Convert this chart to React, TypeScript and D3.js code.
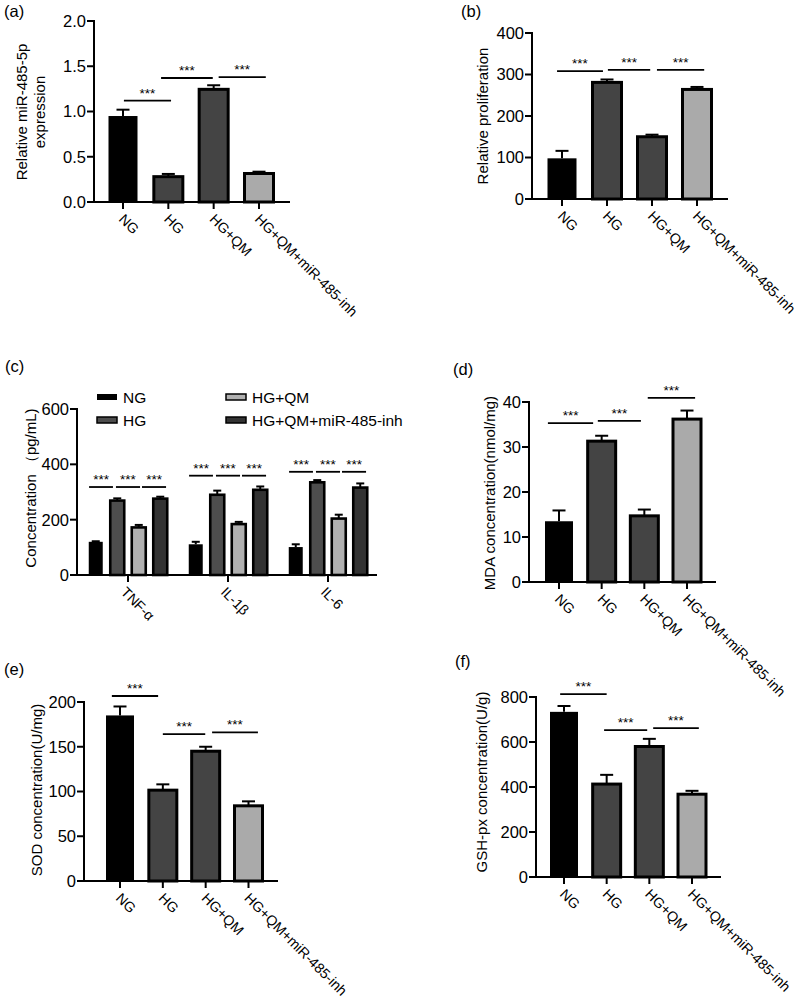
import React from 'react';
import * as d3 from 'd3';

// ---------- data ----------
const GROUPS = ['NG', 'HG', 'HG+QM', 'HG+QM+miR-485-inh'];

const A_VALUES = [0.95, 0.28, 1.245, 0.315];
const A_SD = [0.07, 0.03, 0.045, 0.02];
const A_TICKS = [0, 0.5, 1.0, 1.5, 2.0];
const A_SIG = [[0.02, 1.06, 1.12], [0.84, 1.98, 1.37], [2.11, 3.15, 1.38]];

const B_VALUES = [98, 281, 150, 264];
const B_SD = [18, 7, 5, 6];
const B_TICKS = [0, 100, 200, 300, 400];
const B_SIG = [[-0.11, 0.91, 308], [1.02, 1.96, 311], [2.11, 3.16, 311]];

const C_CYTOKINES = ['TNF-α', 'IL-1β', 'IL-6'];
const C_NG = [120, 111, 101];
const C_HG = [269, 290, 335];
const C_HGQM = [172, 184, 204];
const C_INH = [276, 308, 316];
const C_NG_SD = [2, 9, 10];
const C_HG_SD = [8, 15, 8];
const C_HGQM_SD = [9, 8, 14];
const C_INH_SD = [7, 12, 15];
const C_TICKS = [0, 200, 400, 600];
const C_SIG_Y = [318, 359, 373];
const C_SIG_SPANS = [[-0.31, 0.8], [0.94, 2.06], [2.15, 3.27]];

const D_VALUES = [13.5, 31.3, 14.7, 36.2];
const D_SD = [2.4, 1.2, 1.4, 1.9];
const D_TICKS = [0, 10, 20, 30, 40];
const D_SIG = [[-0.26, 0.8, 35.3], [0.91, 1.92, 35.8], [2.08, 3.19, 40.9]];

const E_VALUES = [185, 101.5, 145, 84];
const E_SD = [10, 6.5, 5, 5];
const E_TICKS = [0, 50, 100, 150, 200];
const E_SIG = [[-0.19, 0.89, 206.7], [1.0, 1.99, 164], [2.15, 3.22, 166]];

const F_VALUES = [734, 413, 580, 368];
const F_SD = [26, 41, 34, 15];
const F_TICKS = [0, 200, 400, 600, 800];
const F_SIG = [[-0.09, 1.0, 813], [0.94, 1.95, 653], [2.09, 3.16, 662]];

// ---------- styles ----------
const FONT = 'Liberation Sans, Arial, Helvetica, sans-serif';
const BAR_FILLS = ['#000000', '#444444', '#444444', '#aaaaaa'];
const C_FILLS = ['#000000', '#4d4d4d', '#b0b0b0', '#333333'];
const XLAB_SIZE = 14.2;

type Frame = { x: number; end: number; y0: number; yTop: number; c0: number; c3: number; bw: number };

function YAxis({ frame, y, ticks, fmt }: any) {
  return (
    <g>
      <line x1={frame.x} x2={frame.x} y1={frame.y0 + 1} y2={frame.yTop - 1} stroke="#000" strokeWidth={2} />
      {ticks.map((t: number) => (
        <g key={t}>
          <line x1={frame.x - 7} x2={frame.x} y1={y(t)} y2={y(t)} stroke="#000" strokeWidth={2} />
          <text x={frame.x - 8} y={y(t)} dy="0.36em" textAnchor="end" fontSize={16.5} fontFamily={FONT}>
            {fmt(t)}
          </text>
        </g>
      ))}
    </g>
  );
}

function Sig({ x1, x2, yy }: any) {
  return (
    <g>
      <line x1={x1} x2={x2} y1={yy} y2={yy} stroke="#000" strokeWidth={1.8} />
      <text x={(x1 + x2) / 2} y={yy - 3} textAnchor="middle" fontSize={13.5} fontFamily={FONT}>***</text>
    </g>
  );
}

function ErrBar({ cx, yTop, yErr, cap }: any) {
  return (
    <g stroke="#000" strokeWidth={2}>
      <line x1={cx} x2={cx} y1={yTop} y2={yErr} />
      <line x1={cx - cap / 2} x2={cx + cap / 2} y1={yErr} y2={yErr} />
    </g>
  );
}

function BarPanel({ frame, values, sd, ticks, fmt, sig, titles, titleX, titleY, tag, tagX, tagY }: any) {
  const f: Frame = frame;
  const y = d3.scaleLinear().domain([0, ticks[ticks.length - 1]]).range([f.y0, f.yTop]);
  const xi = d3.scaleLinear().domain([0, GROUPS.length - 1]).range([f.c0, f.c3]);
  return (
    <g>
      <text x={tagX} y={tagY} fontSize={16.5} fontFamily={FONT}>{tag}</text>
      {titles.map((t: string, i: number) => (
        <text key={t} transform={`translate(${titleX[i]},${titleY}) rotate(-90)`} textAnchor="middle" dy="0.36em" fontSize={15} fontFamily={FONT}>{t}</text>
      ))}
      {values.map((v: number, i: number) => {
        const cx = xi(i);
        return (
          <g key={i}>
            <ErrBar cx={cx} yTop={y(v)} yErr={y(v + sd[i])} cap={13} />
            <rect x={cx - f.bw / 2} y={y(v)} width={f.bw} height={f.y0 - y(v)} fill={BAR_FILLS[i]} stroke="#000" strokeWidth={i === 0 ? 0 : 3} />
          </g>
        );
      })}
      <YAxis frame={f} y={y} ticks={ticks} fmt={fmt} />
      <line x1={f.x - 1} x2={f.end} y1={f.y0} y2={f.y0} stroke="#000" strokeWidth={2} />
      {GROUPS.map((g, i) => (
        <g key={g}>
          <line x1={xi(i)} x2={xi(i)} y1={f.y0} y2={f.y0 + 7} stroke="#000" strokeWidth={2} />
          <text transform={`translate(${xi(i) - 5},${f.y0 + 18}) rotate(45)`} fontSize={XLAB_SIZE} fontFamily={FONT}>{g}</text>
        </g>
      ))}
      {sig.map((s: number[], k: number) => (
        <Sig key={k} x1={xi(s[0])} x2={xi(s[1])} yy={y(s[2])} />
      ))}
    </g>
  );
}

function PanelC() {
  const f = { x: 77, end: 377, y0: 575, yTop: 409 };
  const y = d3.scaleLinear().domain([0, 600]).range([f.y0, f.yTop]);
  const xg = d3.scalePoint<string>().domain(C_CYTOKINES).range([128, 328]);
  const inner = d3.scaleLinear().domain([0, 3]).range([-32.25, 32.25]);
  const series = [
    { name: GROUPS[0], v: C_NG, sd: C_NG_SD },
    { name: GROUPS[1], v: C_HG, sd: C_HG_SD },
    { name: GROUPS[2], v: C_HGQM, sd: C_HGQM_SD },
    { name: GROUPS[3], v: C_INH, sd: C_INH_SD },
  ];
  const bw = 14;
  const legendPos = [[97, 397], [97, 420], [226, 397], [226, 420]];
  return (
    <g>
      <text x={5} y={372} fontSize={16.5} fontFamily={FONT}>(c)</text>
      <text transform={`translate(31,488) rotate(-90)`} textAnchor="middle" dy="0.36em" fontSize={15} fontFamily={FONT}>Concentration （pg/mL)</text>
      {legendPos.map((p, i) => (
        <g key={i}>
          <rect x={p[0]} y={p[1] - 3} width={20} height={6} fill={C_FILLS[i]} stroke="#000" strokeWidth={i === 0 ? 0 : 1.5} />
          <text x={p[0] + 26} y={p[1]} dy="0.36em" fontSize={15.5} fontFamily={FONT}>{series[i].name}</text>
        </g>
      ))}
      {C_CYTOKINES.map((c, gi) => (
        <g key={c}>
          {series.map((s, si) => {
            const cx = (xg(c) as number) + inner(si);
            const v = s.v[gi];
            return (
              <g key={si}>
                <ErrBar cx={cx} yTop={y(v)} yErr={y(v + s.sd[gi])} cap={8} />
                <rect x={cx - bw / 2} y={y(v)} width={bw} height={f.y0 - y(v)} fill={C_FILLS[si]} stroke="#000" strokeWidth={si === 0 ? 0 : 2.6} />
              </g>
            );
          })}
          {C_SIG_SPANS.map((sp, k) => (
            <Sig key={k} x1={(xg(c) as number) + inner(sp[0])} x2={(xg(c) as number) + inner(sp[1])} yy={y(C_SIG_Y[gi])} />
          ))}
        </g>
      ))}
      <YAxis frame={f} y={y} ticks={C_TICKS} fmt={(t: number) => String(t)} />
      <line x1={f.x - 1} x2={f.end} y1={f.y0} y2={f.y0} stroke="#000" strokeWidth={2} />
      {C_CYTOKINES.map((c) => (
        <g key={c}>
          <line x1={xg(c)} x2={xg(c)} y1={f.y0} y2={f.y0 + 7} stroke="#000" strokeWidth={2} />
          <text transform={`translate(${(xg(c) as number) - 8},${f.y0 + 18}) rotate(45)`} fontSize={XLAB_SIZE} fontFamily={FONT}>{c}</text>
        </g>
      ))}
    </g>
  );
}

export default function App() {
  const fmt1 = (t: number) => d3.format('.1f')(t);
  const fmt0 = (t: number) => String(t);
  return (
    <svg width={800} height={1003} style={{ position: 'absolute', left: 0, top: 0, background: '#fff' }}>
      <rect width={800} height={1003} fill="#fff" />
      <BarPanel
        frame={{ x: 94, end: 290, y0: 202, yTop: 21, c0: 123, c3: 259, bw: 29 }}
        values={A_VALUES} sd={A_SD} ticks={A_TICKS} fmt={fmt1} sig={A_SIG}
        titles={['Relative miR-485-5p', 'expression']} titleX={[22, 40]} titleY={112}
        tag="(a)" tagX={4} tagY={17}
      />
      <BarPanel
        frame={{ x: 532, end: 728, y0: 199, yTop: 33, c0: 562, c3: 697, bw: 29 }}
        values={B_VALUES} sd={B_SD} ticks={B_TICKS} fmt={fmt0} sig={B_SIG}
        titles={['Relative proliferation']} titleX={[483]} titleY={116}
        tag="(b)" tagX={461} tagY={17}
      />
      <PanelC />
      <BarPanel
        frame={{ x: 529, end: 716, y0: 582, yTop: 402, c0: 559, c3: 687, bw: 28 }}
        values={D_VALUES} sd={D_SD} ticks={D_TICKS} fmt={fmt0} sig={D_SIG}
        titles={['MDA concentration(nmol/mg)']} titleX={[490]} titleY={493}
        tag="(d)" tagX={453} tagY={375}
      />
      <BarPanel
        frame={{ x: 84, end: 278, y0: 881, yTop: 702, c0: 120, c3: 248.5, bw: 28 }}
        values={E_VALUES} sd={E_SD} ticks={E_TICKS} fmt={fmt0} sig={E_SIG}
        titles={['SOD concentration(U/mg)']} titleX={[37]} titleY={790}
        tag="(e)" tagX={4} tagY={675}
      />
      <BarPanel
        frame={{ x: 536, end: 721, y0: 877, yTop: 697, c0: 564, c3: 692, bw: 28 }}
        values={F_VALUES} sd={F_SD} ticks={F_TICKS} fmt={fmt0} sig={F_SIG}
        titles={['GSH-px concentration(U/g)']} titleX={[482]} titleY={782}
        tag="(f)" tagX={455} tagY={667}
      />
    </svg>
  );
}
